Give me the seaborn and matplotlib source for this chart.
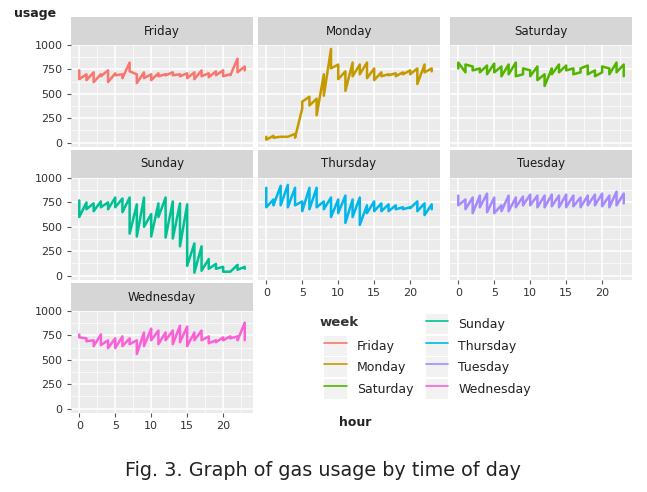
import numpy as np
import pandas as pd
import matplotlib.pyplot as plt
from matplotlib.lines import Line2D
from matplotlib.patches import Rectangle
from matplotlib.legend_handler import HandlerTuple
import seaborn as sns

# facet order (alphabetical, as in the source) and ggplot default hues
days = ['Friday', 'Monday', 'Saturday', 'Sunday', 'Thursday', 'Tuesday', 'Wednesday']
colors = ['#F8766D', '#C49A00', '#53B400', '#00C094', '#00B6EB', '#A58AFF', '#FB61D7']
hours = list(range(24))

# two readings per hour, listed in drawing order (h0a, h0b, h1a, h1b, ...)
friday = [740, 650, 700, 640, 720, 620, 700, 680, 740, 620, 710, 690,
          700, 660, 820, 730, 700, 610, 720, 660, 700, 640, 710, 680,
          700, 690, 720, 690, 700, 680, 710, 660, 720, 650, 740, 680,
          710, 670, 730, 690, 740, 680, 700, 690, 860, 720, 780, 740]
monday = [60, 30, 70, 50, 60, 60, 60, 60, 90, 50, 350, 420,
          470, 380, 450, 280, 700, 480, 960, 760, 800, 650, 730, 530,
          820, 680, 800, 700, 820, 660, 760, 640, 720, 680, 700, 690,
          710, 680, 720, 700, 740, 700, 760, 600, 800, 720, 760, 730]
saturday = [760, 820, 720, 800, 780, 740, 760, 720, 790, 700, 810, 720,
            780, 680, 800, 700, 820, 680, 700, 760, 740, 680, 780, 640,
            700, 580, 760, 700, 800, 720, 790, 740, 760, 700, 720, 760,
            790, 700, 740, 680, 720, 780, 760, 700, 820, 720, 800, 680]
sunday = [770, 600, 750, 680, 740, 660, 760, 700, 750, 680, 800, 700,
          790, 650, 800, 430, 730, 400, 800, 500, 630, 400, 740, 600,
          800, 390, 760, 380, 740, 300, 730, 100, 330, 30, 300, 50,
          170, 70, 120, 70, 90, 40, 40, 40, 110, 60, 90, 70]
thursday = [900, 700, 780, 720, 920, 720, 930, 700, 900, 720, 760, 660,
            900, 680, 900, 700, 760, 680, 800, 600, 780, 640, 820, 540,
            780, 600, 800, 520, 720, 640, 760, 660, 740, 660, 730, 660,
            720, 680, 700, 680, 700, 690, 760, 660, 740, 620, 730, 680]
tuesday = [820, 720, 780, 680, 800, 640, 820, 700, 840, 650, 800, 640,
           720, 660, 820, 660, 800, 700, 810, 720, 830, 720, 820, 700,
           820, 700, 830, 710, 820, 700, 830, 700, 820, 710, 800, 700,
           820, 720, 830, 720, 840, 710, 820, 700, 860, 720, 840, 740]
wednesday = [760, 730, 720, 690, 700, 640, 760, 650, 700, 620, 720, 620,
             740, 640, 720, 660, 700, 560, 780, 640, 820, 700, 800, 660,
             780, 700, 800, 660, 850, 680, 840, 640, 780, 700, 800, 700,
             740, 670, 700, 680, 730, 700, 740, 720, 740, 700, 880, 700]

usage = dict(zip(days, [friday, monday, saturday, sunday, thursday, tuesday, wednesday]))

rows = []
for d in days:
    for i, v in enumerate(usage[d]):
        rows.append((d, hours[i // 2], v))
df = pd.DataFrame(rows, columns=['week', 'hour', 'usage'])

sns.set_style('white')
plt.rcParams['font.family'] = ['DejaVu Sans']

W, H = 647, 492
fig = plt.figure(figsize=(W / 100, H / 100), dpi=100)

col_x = [71, 258, 450]
row_y = [45, 178, 311]   # panel tops in pixels
pw, ph, sh = 182, 102, 28


def box(x0, y0, w, h):
    return [x0 / W, 1 - (y0 + h) / H, w / W, h / H]


bottom_of_col = {'Wednesday', 'Thursday', 'Tuesday'}

for i, d in enumerate(days):
    r, c = divmod(i, 3)
    ax = fig.add_axes(box(col_x[c], row_y[r], pw, ph))
    sns.lineplot(data=df[df.week == d], x='hour', y='usage', color=colors[i],
                 lw=1.8, sort=False, estimator=None, legend=False, ax=ax)
    ax.set_facecolor('#EBEBEB')
    ax.set_xlim(-1.15, 24.15)
    ax.set_ylim(-45, 1000)
    ax.set_xticks([0, 5, 10, 15, 20])
    ax.set_xticks([2.5, 7.5, 12.5, 17.5, 22.5], minor=True)
    ax.set_yticks([0, 250, 500, 750, 1000])
    ax.set_yticks([125, 375, 625, 875], minor=True)
    ax.grid(which='major', color='white', lw=1.1)
    ax.grid(which='minor', color='white', lw=0.5)
    ax.set_axisbelow(True)
    for s in ax.spines.values():
        s.set_visible(False)
    ax.set_xlabel('')
    ax.set_ylabel('')
    ax.tick_params(which='minor', length=0)
    ax.tick_params(which='major', labelsize=8, labelcolor='#333333',
                   color='#555555', length=3, pad=3)
    if c != 0:
        ax.tick_params(axis='y', left=False, labelleft=False)
    else:
        ax.tick_params(axis='y', left=True)
    if d not in bottom_of_col:
        ax.tick_params(axis='x', bottom=False, labelbottom=False)
    else:
        ax.tick_params(axis='x', bottom=True)

    # facet strip
    sax = fig.add_axes(box(col_x[c], row_y[r] - sh, pw, sh))
    sax.set_facecolor('#D6D6D6')
    sax.set_xticks([])
    sax.set_yticks([])
    for s in sax.spines.values():
        s.set_visible(False)
    sax.text(0.5, 0.5, d, ha='center', va='center', fontsize=8.5,
             color='#1A1A1A', transform=sax.transAxes)

# legend: blank first slot so the title sits in column one like ggplot,
# each key drawn over a light grey key box
handles = [Line2D([], [], color='none')]
for c in colors:
    handles.append((Rectangle((0, 0), 1, 1, facecolor='#F2F2F2', edgecolor='none'),
                    Line2D([], [], color=c, lw=1.2)))
labels = [''] + days
leg = fig.legend(handles, labels, ncol=2, loc='upper left',
                 bbox_to_anchor=(318 / W, 1 - 308 / H), frameon=False,
                 fontsize=9, handlelength=1.8, handleheight=2.08,
                 handletextpad=0.8, labelspacing=0.12, columnspacing=1.0,
                 borderpad=0, labelcolor='#222222',
                 handler_map={tuple: HandlerTuple(ndivide=1, pad=0)})
fig.text(320 / W, 1 - 322 / H, 'week', fontsize=9.5, fontweight='bold',
         ha='left', va='center', color='#333333')

fig.text(14 / W, 1 - 14 / H, 'usage', fontsize=9, fontweight='bold',
         ha='left', va='center', color='#222222')
fig.text(355 / W, 1 - 423 / H, 'hour', fontsize=9, fontweight='bold',
         ha='center', va='center', color='#222222')

fig.text(323 / W, 1 - 470 / H, 'Fig. 3. Graph of gas usage by time of day',
         fontsize=13.8, ha='center', va='center', color='#222222')

fig.savefig('out.png', dpi=100)
